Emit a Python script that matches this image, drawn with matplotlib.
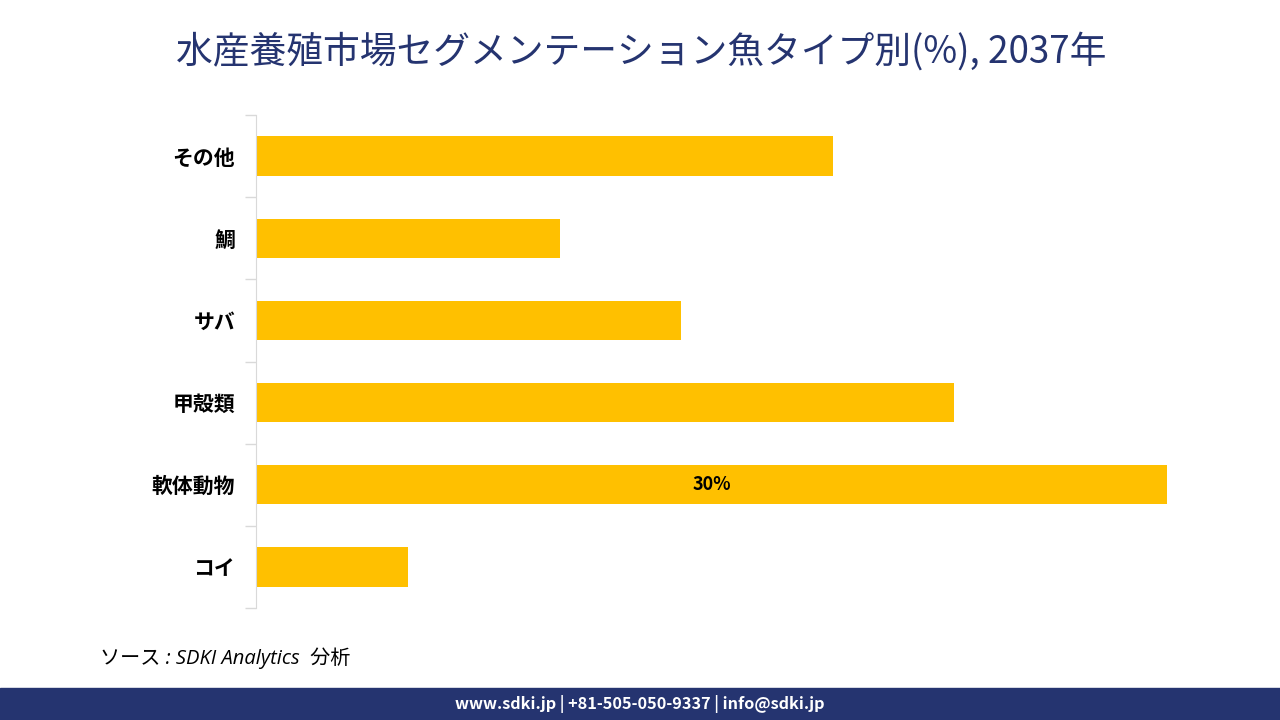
import matplotlib.pyplot as plt
from matplotlib.patches import Rectangle

plt.rcParams['font.family'] = ['Noto Sans CJK JP', 'DejaVu Sans']

# Data (top to bottom)
categories = ["その他", "鯛", "サバ", "甲殻類", "軟体動物", "コイ"]
values = [19, 10, 14, 23, 30, 5]
labels = ["", "", "", "", "30%", ""]

title = "水産養殖市場セグメンテーション魚タイプ別(%), 2037年"
source = "ソース : SDKI Analytics  分析"
footer = "www.sdki.jp | +81-505-050-9337 | info@sdki.jp"

bar_color = "#FFC000"
navy = "#253470"

fig = plt.figure(figsize=(12.8, 7.2), dpi=100)
ax = fig.add_axes([256 / 1280, 1 - 608 / 720, (1167 - 256) / 1280, (608 - 115) / 720])

pos = list(range(len(categories)))[::-1]
ax.barh(pos, values, height=0.48, color=bar_color)
for p, v, lab in zip(pos, values, labels):
    if lab:
        ax.text(v / 2, p, lab, ha='center', va='center', fontsize=13,
                fontweight='bold', color='black')

ax.set_xlim(0, 30)
ax.set_ylim(-0.5, len(categories) - 0.5)
ax.set_yticks(pos)
ax.set_yticklabels(categories, fontsize=15, fontweight='bold')
ax.tick_params(axis='y', which='major', length=0, pad=15)
ax.set_yticks([i - 0.5 for i in range(len(categories) + 1)], minor=True)
ax.tick_params(axis='y', which='minor', length=8, color='#D9D9D9', width=1)
ax.set_xticks([])
for s in ['top', 'right', 'bottom']:
    ax.spines[s].set_visible(False)
ax.spines['left'].set_color('#D9D9D9')

fig.text(641 / 1280, 1 - 52 / 720, title, ha='center', va='center',
         fontsize=26.5, color=navy)
fig.text(100 / 1280, 1 - 658 / 720, source, ha='left', va='center',
         fontsize=14.5, style='italic', color='black',
         family=['Open Sans', 'Noto Sans CJK JP'])

fig.patches.append(Rectangle((0, 0), 1, 32 / 720, transform=fig.transFigure,
                             color=navy, zorder=0))
fig.text(0.5, 16 / 720, footer, ha='center', va='center', fontsize=11.7,
         fontweight='bold', color='white')

fig.savefig("out.png", dpi=100)
